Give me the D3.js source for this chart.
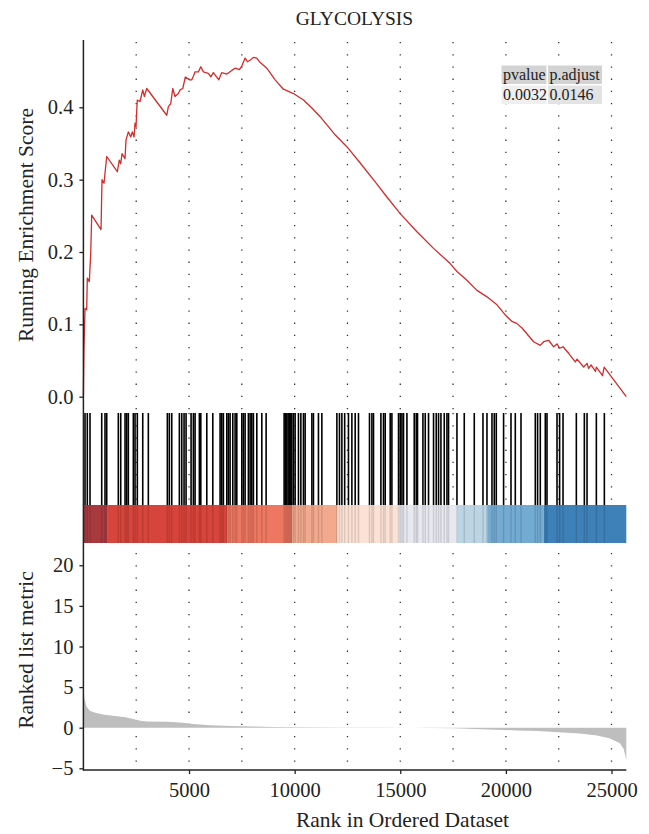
<!DOCTYPE html>
<html>
<head>
<meta charset="utf-8">
<script src="https://cdn.jsdelivr.net/npm/d3@7"></script>
<style>
  html, body { margin: 0; padding: 0; background: #fff; }
  svg { display: block; }
  svg text { font-family: "Liberation Serif", "DejaVu Serif", serif; }
</style>
</head>
<body>
<svg id="chart" width="649" height="834"></svg>
<script>
// ---- data ----------------------------------------------------------------
const geneSetName = "GLYCOLYSIS";
const totalGenes = 25700;

// running enrichment score (rank, score)
const esRank = [0, 25, 76, 156, 185, 280, 346, 393, 834, 881, 976, 1037, 1104, 1606, 1701, 1767, 1828, 1970, 2018, 2127, 2241, 2316, 2397, 2444, 2492, 2525, 2553, 2681, 2809, 2885, 2999, 3946, 4022, 4135, 4230, 4339, 4495, 4576, 4704, 4827, 5016, 5130, 5206, 5287, 5443, 5557, 5680, 5917, 6030, 6153, 6409, 6551, 6788, 7025, 7181, 7385, 7499, 7655, 7764, 7892, 8048, 8209, 8332, 8683, 9076, 9470, 9943, 10417, 10815, 11208, 11918, 12548, 13103, 13813, 14367, 14997, 15789, 16575, 17366, 17683, 18157, 18631, 19104, 19578, 19971, 20289, 20526, 20763, 21312, 21629, 21786, 22023, 22259, 22420, 22543, 22705, 22970, 23287, 23368, 23681, 23842, 23918, 24031, 24240, 24282, 24573, 24653, 25700];
const esScore = [0.000, 0.064, 0.122, 0.120, 0.164, 0.159, 0.198, 0.251, 0.231, 0.300, 0.295, 0.313, 0.332, 0.311, 0.327, 0.322, 0.336, 0.329, 0.355, 0.366, 0.359, 0.366, 0.359, 0.378, 0.373, 0.396, 0.410, 0.408, 0.424, 0.415, 0.426, 0.389, 0.401, 0.405, 0.426, 0.415, 0.419, 0.424, 0.426, 0.442, 0.438, 0.438, 0.443, 0.449, 0.449, 0.456, 0.449, 0.447, 0.442, 0.448, 0.438, 0.448, 0.446, 0.451, 0.454, 0.452, 0.457, 0.468, 0.463, 0.465, 0.469, 0.468, 0.463, 0.454, 0.438, 0.425, 0.419, 0.410, 0.399, 0.387, 0.362, 0.343, 0.323, 0.297, 0.276, 0.253, 0.228, 0.205, 0.184, 0.173, 0.161, 0.147, 0.138, 0.127, 0.113, 0.104, 0.101, 0.095, 0.076, 0.071, 0.076, 0.078, 0.069, 0.073, 0.067, 0.069, 0.060, 0.048, 0.052, 0.041, 0.046, 0.039, 0.044, 0.035, 0.041, 0.029, 0.041, 0.000];

// ranks of the gene-set members in the ordered list
const hitRanks = [76, 185, 313, 867, 1023, 1104, 1653, 1767, 1971, 2051, 2127, 2364, 2444, 2553, 2809, 3074, 3974, 4069, 4183, 4543, 4656, 4765, 4860, 5097, 5206, 5287, 5490, 5557, 5841, 6125, 6471, 6551, 6627, 6788, 6864, 6944, 7072, 7181, 7262, 7499, 7574, 7655, 7811, 7892, 7972, 8048, 8209, 8446, 8650, 9502, 9566, 9630, 9692, 9753, 9810, 9867, 9943, 10023, 10180, 10294, 10417, 10497, 10815, 10890, 11127, 11288, 11999, 12122, 12236, 12368, 12548, 12709, 12866, 13022, 13543, 13657, 13733, 14083, 14206, 14287, 14524, 14604, 14917, 14997, 15078, 15154, 15315, 15661, 15755, 15817, 16073, 16182, 16338, 16575, 16703, 16812, 16925, 17082, 17210, 17285, 17683, 18029, 18503, 18915, 19104, 19341, 19450, 19545, 19891, 20241, 20445, 20715, 21392, 21501, 21629, 21866, 21946, 22420, 22543, 22705, 23335, 23714, 23842, 24282, 24661];

// ranked list metric (rank, value)
const metricRank = [0, 50, 150, 300, 600, 1000, 1500, 2000, 2300, 2700, 3000, 4000, 4700, 5200, 6000, 7000, 8000, 9000, 10000, 12000, 14000, 15500, 16500, 17500, 18500, 19500, 20500, 21500, 22500, 23500, 24300, 24900, 25400, 25570, 25650, 25700];
const metricValue = [5.0, 3.6, 2.6, 2.1, 1.8, 1.6, 1.45, 1.3, 1.1, 0.85, 0.75, 0.72, 0.6, 0.45, 0.3, 0.2, 0.15, 0.1, 0.07, 0.04, 0.01, 0.0, -0.03, -0.08, -0.15, -0.25, -0.33, -0.42, -0.55, -0.72, -0.95, -1.3, -1.9, -2.6, -3.4, -4.0];

// colour bar bins along the ranked list
const binStart = [0, 1123, 6806, 9886, 12018, 14921, 17702, 19123, 21790];
const binEnd = [1123, 6806, 9886, 12018, 14921, 17702, 19123, 21790, 25700];
const binColor = ["#a8393f", "#d7443b", "#ed7760", "#f2a98e", "#fbe2d4", "#e8e8f1", "#bcd5e5", "#73abd3", "#3e80b8"];

// axis ticks
const esTicks = [0.0, 0.1, 0.2, 0.3, 0.4];
const metricTicks = [-5, 0, 5, 10, 15, 20];
const rankTicks = [5000, 10000, 15000, 20000, 25000];
const gridRanks = [2500, 5000, 7500, 10000, 12500, 15000, 17500, 20000, 22500, 25000];

// statistics table
const statHeader = ["pvalue", "p.adjust"];
const statValues = ["0.0032", "0.0146"];

// ---- layout ----------------------------------------------------------------
const serif = "'Liberation Serif', 'DejaVu Serif', serif";
const svg = d3.select("#chart");
const top1 = 40, bottom1 = 413;      // running score panel
const rugTop = 413, rugBottom = 505;  // hit lines
const barTop = 505, barBottom = 543;  // colour bar
const top3 = 545, bottom3 = 770;      // ranked metric panel
const axisX = 83.4;

const x = d3.scaleLinear().domain([0, totalGenes]).range([axisX, 626.3]);
const yES = d3.scaleLinear().domain([0, 0.4]).range([396.7, 107.3]);
const yM = d3.scaleLinear().domain([-5, 20]).range([768.3, 565.3]);

// dotted vertical guides
function guides(y0, y1) {
  svg.append("g").selectAll("line").data(gridRanks).join("line")
    .attr("x1", d => x(d)).attr("x2", d => x(d))
    .attr("y1", y0).attr("y2", y1)
    .attr("stroke", "#333").attr("stroke-width", 1.3)
    .attr("stroke-dasharray", "1.3 10.9");
}
guides(top1 + 2, bottom1);
guides(rugTop, rugBottom);
guides(top3 + 8, bottom3);

// title
svg.append("text").attr("x", 354.5).attr("y", 25)
  .attr("text-anchor", "middle").attr("font-size", 19.5).attr("fill", "#222")
  .text(geneSetName);

// running enrichment score
const esData = esRank.map((r, i) => [r, esScore[i]]);
svg.append("path").datum(esData)
  .attr("fill", "none").attr("stroke", "#d42b2b").attr("stroke-width", 1.3)
  .attr("stroke-linejoin", "round")
  .attr("d", d3.line().x(d => x(d[0])).y(d => yES(d[1])));

// colour bar
svg.append("g").selectAll("rect").data(binStart).join("rect")
  .attr("x", (d, i) => x(d)).attr("width", (d, i) => x(binEnd[i]) - x(d))
  .attr("y", barTop).attr("height", barBottom - barTop)
  .attr("fill", (d, i) => binColor[i]);

// hit lines, faintly continued through the colour bar
svg.append("g").selectAll("line").data(hitRanks).join("line")
  .attr("x1", d => x(d)).attr("x2", d => x(d))
  .attr("y1", rugTop).attr("y2", rugBottom)
  .attr("stroke", "#000").attr("stroke-width", 1.6);
svg.append("g").selectAll("line").data(hitRanks).join("line")
  .attr("x1", d => x(d)).attr("x2", d => x(d))
  .attr("y1", barTop).attr("y2", barBottom)
  .attr("stroke", "#000").attr("stroke-opacity", 0.12).attr("stroke-width", 1.5);

// ranked list metric
const mData = metricRank.map((r, i) => [r, metricValue[i]]);
svg.append("path").datum(mData)
  .attr("fill", "#bebebe")
  .attr("d", d3.area().x(d => x(d[0])).y0(yM(0)).y1(d => yM(d[1])));

// axes
const fmt1 = d3.format(".1f");
const gES = svg.append("g").attr("transform", `translate(${axisX},0)`)
  .call(d3.axisLeft(yES).tickValues(esTicks).tickFormat(fmt1).tickSize(4).tickPadding(6).tickSizeOuter(0));
const gM = svg.append("g").attr("transform", `translate(${axisX},0)`)
  .call(d3.axisLeft(yM).tickValues(metricTicks).tickFormat(d3.format("d")).tickSize(4).tickPadding(6).tickSizeOuter(0));
const gX = svg.append("g").attr("transform", `translate(0,${bottom3})`)
  .call(d3.axisBottom(x).tickValues(rankTicks).tickFormat(d3.format("d")).tickSize(4).tickPadding(8).tickSizeOuter(0));

[gES, gM, gX].forEach(g => {
  g.attr("font-family", null).attr("font-size", null);
  g.select(".domain").remove();
  g.selectAll(".tick line").attr("stroke", "#222").attr("stroke-width", 1.3);
  g.selectAll(".tick text")
    .style("font-family", serif).style("font-size", "20.5px").attr("fill", "#222");
});

// axis lines
svg.append("line").attr("x1", axisX).attr("x2", axisX).attr("y1", top1).attr("y2", bottom3 + 0.7)
  .attr("stroke", "#222").attr("stroke-width", 1.5);
svg.append("line").attr("x1", axisX).attr("x2", x(totalGenes)).attr("y1", bottom3).attr("y2", bottom3)
  .attr("stroke", "#222").attr("stroke-width", 1.5);

// axis titles
svg.append("text").attr("transform", "translate(33,225) rotate(-90)")
  .attr("text-anchor", "middle").attr("font-size", 21.5).attr("fill", "#222")
  .text("Running Enrichment Score");
svg.append("text").attr("transform", "translate(33,650) rotate(-90)")
  .attr("text-anchor", "middle").attr("font-size", 21.5).attr("fill", "#222")
  .text("Ranked list metric");
svg.append("text").attr("x", 402.5).attr("y", 827)
  .attr("text-anchor", "middle").attr("font-size", 21.5).attr("fill", "#222")
  .text("Rank in Ordered Dataset");

// statistics table
const cellX = [501.5, 548];
const cellW = [45, 54];
const rowY = [65.5, 85.5];
const rowH = 18.5;
const cellFill = [["#d3d3d3", "#d3d3d3"], ["#efefef", "#e3e3e3"]];
const table = svg.append("g");
[statHeader, statValues].forEach((row, r) => {
  row.forEach((txt, c) => {
    table.append("rect").attr("x", cellX[c]).attr("y", rowY[r])
      .attr("width", cellW[c]).attr("height", rowH).attr("fill", cellFill[r][c]);
    table.append("text").attr("x", cellX[c] + 1.5).attr("y", rowY[r] + 14)
      .attr("font-size", 16).attr("fill", "#222").text(txt);
  });
});
</script>
</body>
</html>
